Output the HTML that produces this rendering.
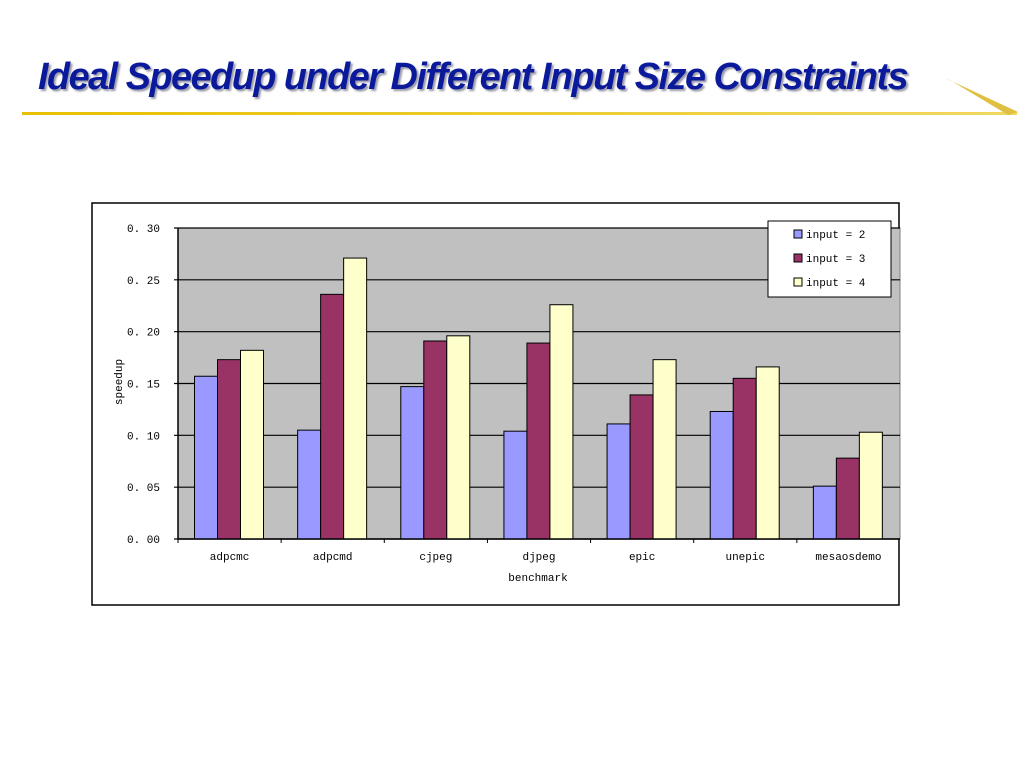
<!DOCTYPE html>
<html><head><meta charset="utf-8"><style>
body{margin:0;width:1024px;height:768px;background:#fff;overflow:hidden;position:relative}
#title{position:absolute;left:38px;top:56px;font-family:"Liberation Sans",sans-serif;font-weight:bold;font-style:italic;font-size:38px;color:#0a1a9a;letter-spacing:-1.5px;transform:scaleX(0.995);transform-origin:left top;text-shadow:2px 2px 2px #99a;white-space:nowrap}
</style></head><body>
<div id="title">Ideal Speedup under Different Input Size Constraints</div>
<svg width="1024" height="768" style="position:absolute;left:0;top:0">
<defs><linearGradient id="g" x1="0" x2="1"><stop offset="0" stop-color="#e8c000"/><stop offset="1" stop-color="#f0d860"/></linearGradient></defs>
<rect x="22" y="112" width="995" height="3" fill="url(#g)"/>
<polygon points="945,78 1018,112 1008,115 950,80" fill="#e0c040"/>
</svg>
<svg id="chart" width="1024" height="768" style="position:absolute;left:0;top:0" font-family="Liberation Mono, monospace"></svg>
<script>
const categories=["adpcmc","adpcmd","cjpeg","djpeg","epic","unepic","mesaosdemo"];
const input2=[0.157,0.105,0.147,0.104,0.111,0.123,0.051];
const input3=[0.173,0.236,0.191,0.189,0.139,0.155,0.078];
const input4=[0.182,0.271,0.196,0.226,0.173,0.166,0.103];
const seriesNames=["input = 2","input = 3","input = 4"];
const yTicks=[0,0.05,0.10,0.15,0.20,0.25,0.30];
const yTickLabels=["0.00","0.05","0.10","0.15","0.20","0.25","0.30"];
const colors=["#9999ff","#993366","#ffffcc"];
const svg=document.getElementById('chart');
const NS="http://www.w3.org/2000/svg";
function mk(t,a,p){const e=document.createElementNS(NS,t);for(const k in a)e.setAttribute(k,a[k]);(p||svg).appendChild(e);return e;}
const X0=178,X1=900,Y0=539,Y1=228;
const y=v=>Y0-(v/0.3)*(Y0-Y1);
const cw=(X1-X0)/categories.length;
const x=i=>X0+i*cw;
let e=mk('rect',{x:92,y:203,width:807,height:402,fill:'#fff',stroke:'#000','stroke-width':1.5});


e=mk('rect',{x:X0,y:Y1,width:X1-X0,height:Y0-Y1,fill:'#c0c0c0',stroke:'#808080'});


yTicks.forEach((t,i)=>{
 const g=mk('line',{x1:X0-4,x2:X1,y1:y(t),y2:y(t),stroke:'#000','stroke-width':1.2});
 
 
 const l=mk('text',{x:160,y:y(t)+4,'text-anchor':'end','font-size':11,fill:'#000'});
 l.textContent=yTickLabels[i].replace('.','. ');
 
 
});
const series=[input2,input3,input4];
const bw=23;
categories.forEach((c,i)=>{
 series.forEach((s,j)=>{
  const b=mk('rect',{x:x(i)+16.5+j*bw,y:y(s[i]),width:bw,height:Y0-y(s[i]),fill:colors[j],stroke:'#000','stroke-width':1});
  
  
 });
 const t=mk('line',{x1:x(i),x2:x(i),y1:Y0,y2:Y0+4,stroke:'#000'});
 
 
 const l=mk('text',{x:x(i)+cw/2,y:560,'text-anchor':'middle','font-size':11});
 l.textContent=c;
 
 
});
e=mk('line',{x1:X0,x2:X0,y1:Y1,y2:Y0,stroke:'#000','stroke-width':1.5});


e=mk('line',{x1:X0,x2:X1,y1:Y0,y2:Y0,stroke:'#000','stroke-width':1.5});


e=mk('text',{x:538,y:581,'text-anchor':'middle','font-size':11});
e.textContent='benchmark';


e=mk('text',{x:0,y:0,'text-anchor':'middle','font-size':11,transform:'translate(122,382) rotate(-90)'});
e.textContent='speedup';


e=mk('rect',{x:768,y:221,width:123,height:76,fill:'#fff',stroke:'#000'});


seriesNames.forEach((n,j)=>{
 const r=mk('rect',{x:794,y:230+j*24,width:8,height:8,fill:colors[j],stroke:'#000'});
 
 
 const t=mk('text',{x:806,y:238+j*24,'font-size':11});
 t.textContent=n;
 
 
});
</script>
</body></html>
